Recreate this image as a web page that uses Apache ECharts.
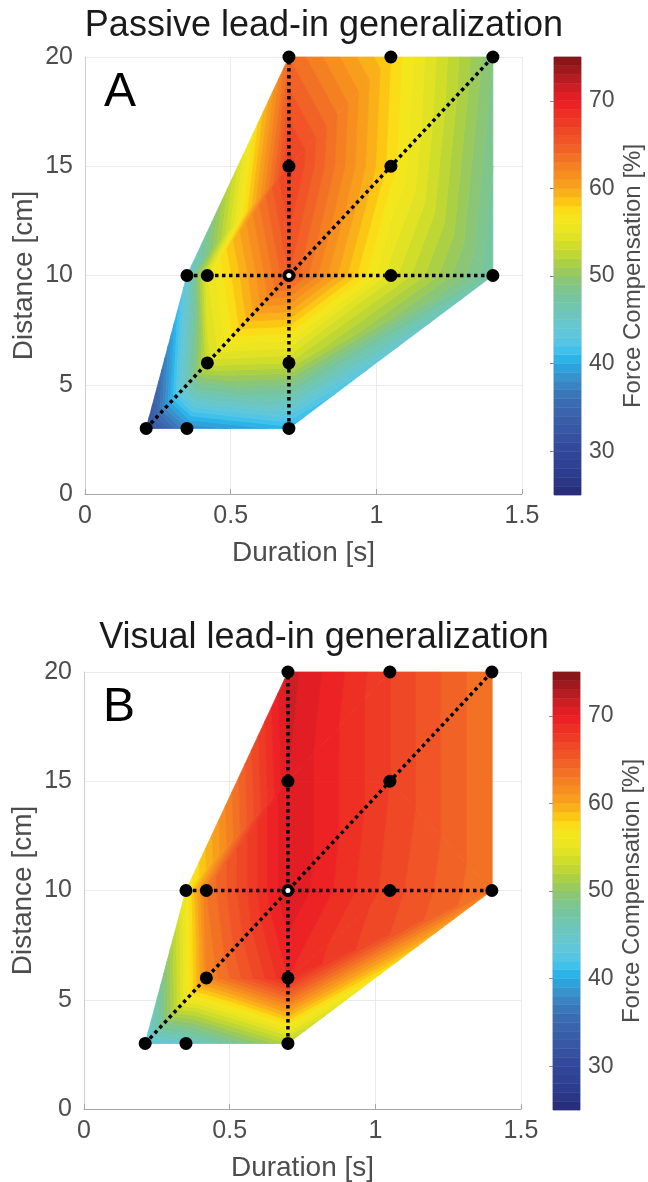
<!DOCTYPE html>
<html>
<head>
<meta charset="utf-8">
<title>Lead-in generalization</title>
<script src="https://cdn.jsdelivr.net/npm/echarts@6.0.0/dist/echarts.min.js"></script>
<style>
  html, body { margin: 0; padding: 0; background: #fff; }
  #chart { width: 648px; height: 1182px; }
</style>
</head>
<body>
<div id="chart"></div>
<script>
// targets: duration [s] and distance [cm]
var durations = [0.21, 0.35, 0.7, 0.42, 0.7, 0.35, 0.42, 0.7, 1.05, 1.4, 0.7, 1.05, 0.7, 1.05, 1.4];
var distances = [3, 3, 3, 6, 6, 10, 10, 10, 10, 10, 15, 15, 20, 20, 20];

// force compensation [%] at each target
var passiveComp = [31, 38, 40.5, 53.5, 53, 44, 55, 65, 54.5, 47, 67.5, 57.5, 64, 58, 49];
var visualComp = [43, 44.5, 52, 62, 69, 56, 63, 71, 66.5, 63, 71, 67, 71.5, 67, 63];

var barTicks = [30, 40, 50, 60, 70];
var barMin = 25;
var barMax = 75;

// dotted lines through the targets
var speedPath = [0, 3, 7, 11, 14];
var durationPath = [2, 4, 7, 10, 12];
var distancePath = [5, 6, 7, 8, 9];
var centerTarget = 7;

// triangulation of the targets (indices)
var triangles = [
  [0, 1, 3], [1, 2, 3], [2, 4, 3], [0, 3, 5], [3, 6, 5],
  [3, 7, 6], [3, 4, 7], [2, 9, 4], [4, 9, 8], [4, 8, 7],
  [5, 6, 10], [5, 10, 12], [6, 7, 10], [7, 8, 11], [7, 11, 10],
  [8, 9, 11], [9, 14, 11], [11, 14, 13], [10, 11, 13], [10, 13, 12]
];

var cmapStops = [
  [25, '#262a73'], [27, '#2c3a8b'], [30, '#32479a'], [33, '#395aa6'], [36, '#3a70b3'],
  [38, '#3a8bc8'], [40, '#28a9e1'], [41, '#2fbcee'], [42, '#4ec5ea'], [44, '#66c7d3'],
  [46, '#6ec6b7'], [48, '#79c59a'], [50, '#8fc66a'], [51, '#a3cd4c'], [53, '#c8da2c'],
  [55, '#e8e420'], [57, '#f8e71c'], [58, '#fcd20f'], [60, '#f9a51b'], [62, '#f6871f'],
  [65, '#f05a28'], [68, '#ee3524'], [70, '#ed1c24'], [72, '#c21e24'], [75, '#7d1416']
];

function hexToRgb(h) {
  return [parseInt(h.substr(1, 2), 16), parseInt(h.substr(3, 2), 16), parseInt(h.substr(5, 2), 16)];
}

function cmap(v) {
  if (v <= cmapStops[0][0]) return cmapStops[0][1];
  for (var i = 1; i < cmapStops.length; i++) {
    if (v <= cmapStops[i][0]) {
      var a = cmapStops[i - 1], b = cmapStops[i];
      var t = (v - a[0]) / (b[0] - a[0]);
      var ca = hexToRgb(a[1]), cb = hexToRgb(b[1]);
      var c = ca.map(function (x, j) { return Math.round(x + t * (cb[j] - x)); });
      return 'rgb(' + c.join(',') + ')';
    }
  }
  return cmapStops[cmapStops.length - 1][1];
}

// keep the part of a polygon where sign * (value - level) >= 0
function clipPoly(poly, level, sign) {
  var out = [];
  for (var i = 0; i < poly.length; i++) {
    var a = poly[i], b = poly[(i + 1) % poly.length];
    var da = sign * (a[2] - level), db = sign * (b[2] - level);
    if (da >= 0) out.push(a);
    if ((da >= 0) !== (db >= 0)) {
      var t = da / (da - db);
      out.push([a[0] + t * (b[0] - a[0]), a[1] + t * (b[1] - a[1]), a[2] + t * (b[2] - a[2])]);
    }
  }
  return out;
}

function contourItem(comp) {
  return function (params, api) {
    var tri = triangles[params.dataIndex];
    var pts = tri.map(function (k) {
      var c = api.coord([durations[k], distances[k]]);
      return [c[0], c[1], comp[k]];
    });
    var children = [];
    for (var l = barMin; l < barMax; l++) {
      var poly = clipPoly(clipPoly(pts, l, 1), l + 1, -1);
      if (poly.length < 3) continue;
      var col = cmap(l + 0.5);
      children.push({
        type: 'polygon',
        shape: { points: poly.map(function (p) { return [p[0], p[1]]; }) },
        style: { fill: col, stroke: col, lineWidth: 0.8 }
      });
    }
    return { type: 'group', children: children };
  };
}

function colorbarItem(params, api) {
  var l = barMin + params.dataIndex;
  var p0 = api.coord([0, l]);
  var p1 = api.coord([1, l + 1]);
  var col = cmap(l + 0.5);
  return {
    type: 'rect',
    shape: { x: p0[0], y: p1[1], width: p1[0] - p0[0], height: p0[1] - p1[1] },
    style: { fill: col, stroke: col, lineWidth: 0.5 }
  };
}

function pathData(path) {
  return path.map(function (k) { return [durations[k], distances[k]]; });
}

var fontFamily = 'Liberation Sans, Arial, sans-serif';
var labelColor = '#4d4d4d';

function mainXAxis(idx) {
  return {
    type: 'value', gridIndex: idx, min: 0, max: 1.5, interval: 0.5,
    name: 'Duration [s]', nameLocation: 'middle', nameGap: 45, nameMoveOverlap: false,
    nameTextStyle: { fontSize: 28, color: labelColor, fontFamily: fontFamily },
    axisLine: { show: true, lineStyle: { color: '#a6a6a6', width: 1 } },
    axisTick: { show: true, inside: true, length: 5, lineStyle: { color: '#a6a6a6' } },
    axisLabel: { fontSize: 25, color: labelColor, fontFamily: fontFamily, margin: 10, showMinLabel: true, showMaxLabel: true },
    splitLine: { show: true, lineStyle: { color: '#ebebeb', width: 1 } }
  };
}

function mainYAxis(idx) {
  return {
    type: 'value', gridIndex: idx, min: 0, max: 20, interval: 5,
    name: 'Distance [cm]', nameLocation: 'middle', nameGap: 47, nameRotate: 90, nameMoveOverlap: false,
    nameTextStyle: { fontSize: 28, color: labelColor, fontFamily: fontFamily },
    axisLine: { show: true, lineStyle: { color: '#cfcfcf', width: 1 } },
    axisTick: { show: false },
    axisLabel: { fontSize: 25, color: labelColor, fontFamily: fontFamily, margin: 12, showMinLabel: true, showMaxLabel: true },
    splitLine: { show: true, lineStyle: { color: '#ebebeb', width: 1 } }
  };
}

function barXAxis(idx) {
  return { type: 'value', gridIndex: idx, min: 0, max: 1, show: false };
}

function barYAxis(idx) {
  return {
    type: 'value', gridIndex: idx, min: barMin, max: barMax, position: 'right',
    name: 'Force Compensation [%]', nameLocation: 'middle', nameGap: 40, nameRotate: 90,
    nameTextStyle: { fontSize: 24, color: labelColor, fontFamily: fontFamily },
    axisLine: { show: false },
    axisTick: { show: true, inside: true, length: 4, customValues: barTicks, lineStyle: { color: '#8c8c8c' } },
    axisLabel: { fontSize: 23, color: labelColor, fontFamily: fontFamily, margin: 8, customValues: barTicks },
    splitLine: { show: false }
  };
}

function panelSeries(idx, comp) {
  var dotted = { color: '#000', width: 3.5, type: [3.5, 3.5], cap: 'butt', opacity: 1 };
  var series = [{
    type: 'custom', xAxisIndex: idx, yAxisIndex: idx, z: 1, silent: true,
    renderItem: contourItem(comp),
    data: triangles.map(function (t) { return [durations[t[0]], distances[t[0]]]; })
  }];
  [speedPath, durationPath, distancePath].forEach(function (path) {
    series.push({
      type: 'line', xAxisIndex: idx, yAxisIndex: idx, z: 3, silent: true,
      symbol: 'none', data: pathData(path), lineStyle: dotted
    });
  });
  series.push({
    type: 'scatter', xAxisIndex: idx, yAxisIndex: idx, z: 4, silent: true,
    symbolSize: 13, itemStyle: { color: '#000', opacity: 1 },
    data: durations.map(function (d, k) { return [d, distances[k]]; })
  });
  series.push({
    type: 'scatter', xAxisIndex: idx, yAxisIndex: idx, z: 5, silent: true,
    symbolSize: 5, itemStyle: { color: '#fff', opacity: 1 },
    data: [[durations[centerTarget], distances[centerTarget]]]
  });
  return series;
}

function barSeries(idx) {
  var levels = [];
  for (var l = barMin; l < barMax; l++) levels.push([0.5, l + 0.5]);
  return {
    type: 'custom', xAxisIndex: idx, yAxisIndex: idx, silent: true,
    renderItem: colorbarItem, data: levels
  };
}

var chart = echarts.init(document.getElementById('chart'), null, { renderer: 'canvas' });

var option = {
  animation: false,
  backgroundColor: '#fff',
  title: [
    { text: 'Passive lead-in generalization', left: 'center', top: 3,
      textStyle: { fontSize: 36, fontWeight: 'normal', color: '#1a1a1a', fontFamily: fontFamily } },
    { text: 'Visual lead-in generalization', left: 'center', top: 615,
      textStyle: { fontSize: 36, fontWeight: 'normal', color: '#1a1a1a', fontFamily: fontFamily } }
  ],
  graphic: [
    { type: 'text', left: 104, top: 69, style: { text: 'A', fontSize: 48, fill: '#000', fontFamily: fontFamily } },
    { type: 'text', left: 103, top: 684, style: { text: 'B', fontSize: 48, fill: '#000', fontFamily: fontFamily } }
  ],
  grid: [
    { left: 85, top: 57, width: 437, height: 437, outerBoundsMode: 'none' },
    { left: 84, top: 672, width: 437, height: 437, outerBoundsMode: 'none' },
    { left: 554, top: 57, width: 27, height: 438, outerBoundsMode: 'none', show: true, borderColor: '#b3b3b3', borderWidth: 1, backgroundColor: 'transparent' },
    { left: 553, top: 672, width: 27, height: 438, outerBoundsMode: 'none', show: true, borderColor: '#b3b3b3', borderWidth: 1, backgroundColor: 'transparent' }
  ],
  xAxis: [mainXAxis(0), mainXAxis(1), barXAxis(2), barXAxis(3)],
  yAxis: [mainYAxis(0), mainYAxis(1), barYAxis(2), barYAxis(3)],
  series: [].concat(panelSeries(0, passiveComp), panelSeries(1, visualComp), [barSeries(2), barSeries(3)])
};

chart.setOption(option);
</script>
</body>
</html>
